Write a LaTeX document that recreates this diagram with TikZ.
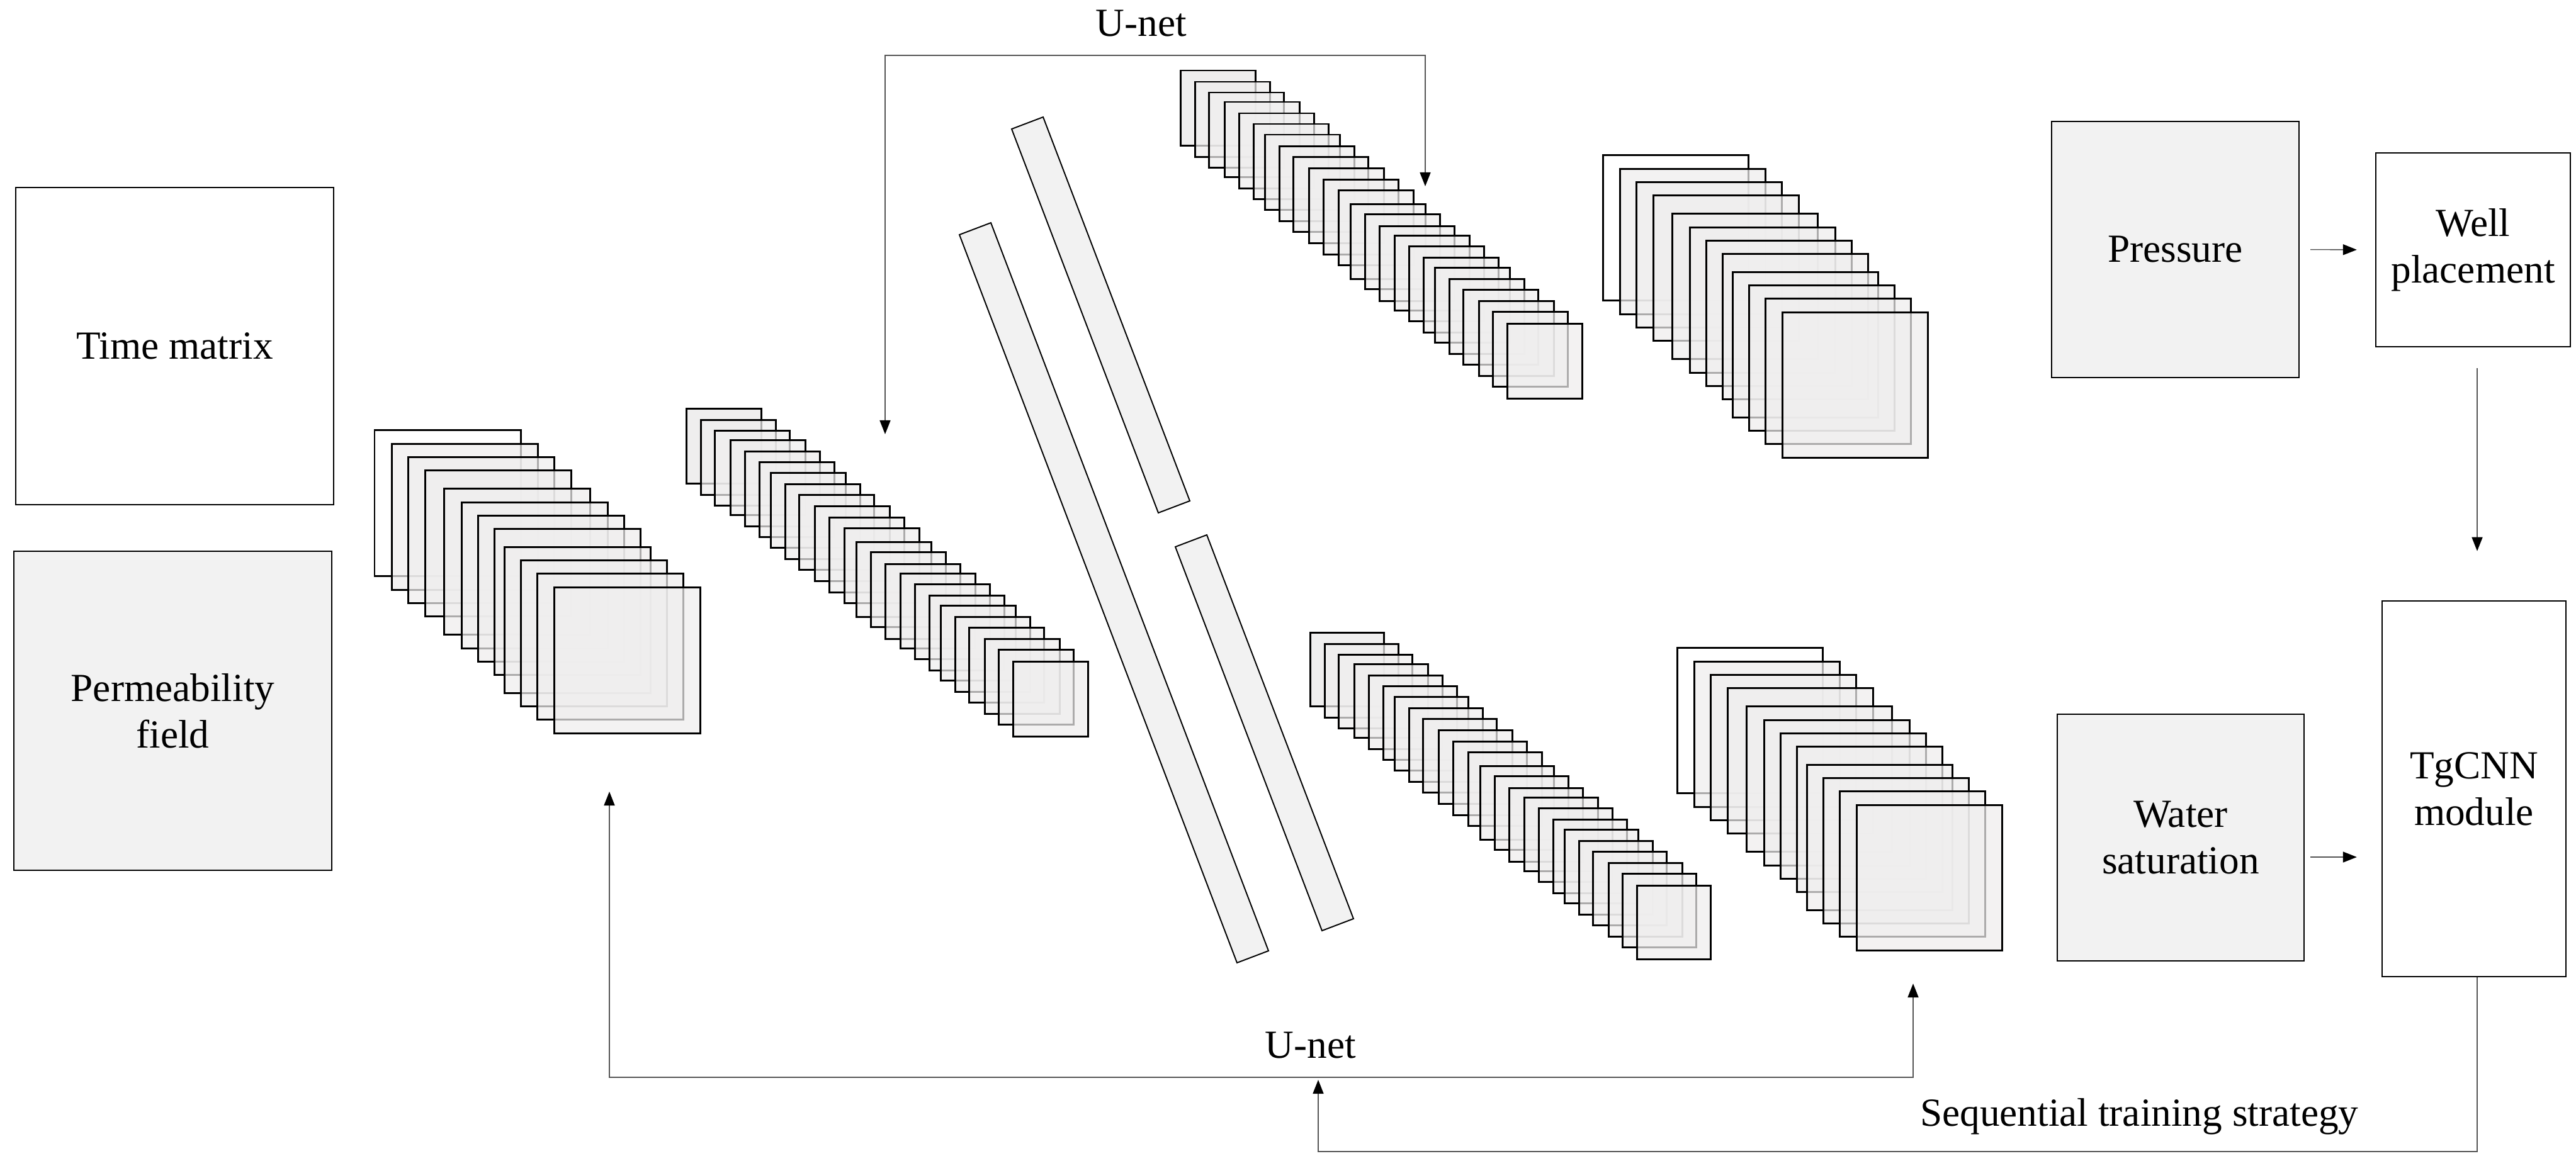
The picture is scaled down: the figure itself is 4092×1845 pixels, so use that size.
\documentclass[tikz,border=0pt]{standalone}
\usepackage{fontspec}
\setmainfont{Liberation Serif}
\usetikzlibrary{arrows.meta,calc}
\definecolor{boxfill}{HTML}{F2F2F2}
\definecolor{sqfill}{HTML}{EFEEEE}
\definecolor{connc}{HTML}{555555}
\newcommand\bigstack[3]{%
  \begin{scope}[shift={(#1,#2)}]
    \draw[sq, fill=white, fill opacity=1] (0,0) rectangle ++(#3,#3);
    \foreach \dx/\dy in {27/22,53/43,80/64,110/93,138/115,164/136,190/157,206/186,232/207,258/228,285/250}
      \draw[sq] (\dx,\dy) rectangle ++(#3,#3);
  \end{scope}}
\newcommand\smallstack[3]{%
  \begin{scope}[shift={(#1,#2)}]
    \draw[sq, fill opacity=1] (0,0) rectangle ++(#3,#3);
    \foreach \dx/\dy in {23/18,45/35,70/50,93/68,116/85,134/102,157/120,179/137,204/155,227/173,251/190,270/212,293/228,316/247,340/262,363/279,386/297,404/313,427/331,449/348,474/366,496/383,519/402}
      \draw[sq] (\dx,\dy) rectangle ++(#3,#3);
  \end{scope}}
\begin{document}
\begin{tikzpicture}[x=0.01cm, y=-0.01cm,
  font=\fontsize{18}{21}\selectfont,
  box/.style={draw=black, line width=0.6pt, inner sep=0pt, align=center},
  graybox/.style={box, fill=boxfill},
  sq/.style={draw=black, line width=0.85pt, fill=sqfill, fill opacity=0.72},
  bar/.style={draw=black, line width=0.55pt, fill=boxfill},
  conn/.style={draw=connc, line width=0.45pt},
  tip/.style={-{Triangle[length=0.22cm,width=0.17cm,color=black]}},
  dtip/.style={{Triangle[length=0.22cm,width=0.17cm,color=black]}-{Triangle[length=0.22cm,width=0.17cm,color=black]}}
]
\fill[white] (0,0) rectangle (4092,1845);
\useasboundingbox (0,0) rectangle (4092,1845);

% input boxes
\node[box, minimum width=5.05cm, minimum height=5.04cm] (time) at (277.5,550) {Time matrix};
\node[graybox, minimum width=5.05cm, minimum height=5.07cm] (perm) at (274.5,1129.5) {Permeability\\field};

% feature stacks
\bigstack{595}{683}{232}
\smallstack{1090}{649}{119}
\smallstack{1875}{112}{119}
\bigstack{2546}{246}{231}
\smallstack{2081}{1005}{117}
\bigstack{2664}{1029}{231}

% slanted bars
\draw[bar] (1607,205) -- (1657,186) -- (1890,796) -- (1840,815) -- cycle;
\draw[bar] (1524,373) -- (1574,354) -- (2015,1511) -- (1965,1530) -- cycle;
\draw[bar] (1867,869) -- (1917,850) -- (2150,1460) -- (2100,1479) -- cycle;

% output boxes
\node[graybox, minimum width=3.93cm, minimum height=4.07cm] (pressure) at (3455.5,396.5) {Pressure};
\node[box, minimum width=3.09cm, minimum height=3.08cm] (well) at (3928.5,397) {Well\\placement};
\node[graybox, minimum width=3.92cm, minimum height=3.92cm] (water) at (3464,1331) {Water\\saturation};
\node[box, minimum width=2.92cm, minimum height=5.97cm] (tgcnn) at (3930,1253.5) {TgCNN\\module};

% labels
\node[anchor=base, inner sep=0pt] (unettop) at (1813,57) {U-net};
\node[anchor=base, inner sep=0pt] (unetbot) at (2082,1681) {U-net};
\node[anchor=base east, inner sep=0pt] (seqlab) at (3747,1789) {Sequential training strategy};

% top U-net connector
\coordinate (uB) at (1406,690);
\coordinate (ut1) at (1406,88);
\coordinate (ut2) at (2264,88);
\coordinate (uC) at (2264,296);
\draw[conn, dtip] (uB) -- (ut1) -- (ut2) -- (uC);

% bottom U-net connector
\coordinate (uA) at (968,1258);
\coordinate (ub1) at (968,1712);
\coordinate (ub2) at (3039,1712);
\coordinate (uE) at (3039,1563);
\draw[conn, dtip] (uA) -- (ub1) -- (ub2) -- (uE);

% right side arrows
\draw[conn, tip, shorten <=0.17cm, shorten >=0.29cm] (pressure.east) -- (well.west);
\coordinate (wd) at ([xshift=0.065cm]well.south);
\draw[conn, tip, shorten <=0.33cm, shorten >=0.78cm] (wd) -- (wd |- tgcnn.north);
\coordinate (wsa) at ([yshift=-0.31cm]water.east);
\draw[conn, tip, shorten <=0.09cm, shorten >=0.39cm] (wsa) -- (wsa -| tgcnn.west);

% sequential training connector
\coordinate (s1) at (3935,1830);
\coordinate (s2) at (2094,1830);
\coordinate (sT) at (2094,1716);
\draw[conn, tip] (tgcnn.south -| s1) -- (s1) -- (s2) -- (sT);
\end{tikzpicture}
\end{document}
